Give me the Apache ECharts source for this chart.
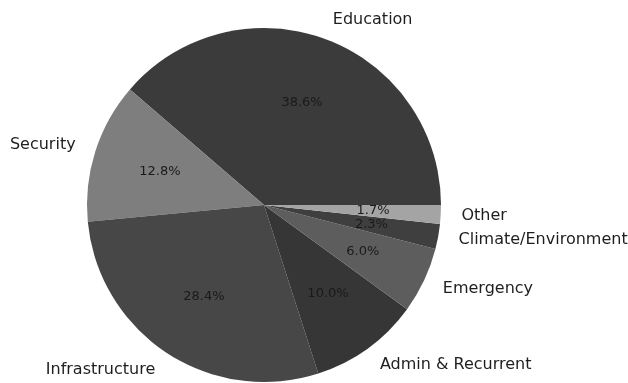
<!DOCTYPE html>
<html>
<head>
<meta charset="utf-8">
<script src="https://cdn.jsdelivr.net/npm/echarts@6/dist/echarts.min.js"></script>
<style>
  html, body { margin: 0; padding: 0; background: #ffffff; }
  #chart { width: 628px; height: 383px; }
</style>
</head>
<body>
<div id="chart"></div>
<script>
// Budget shares by sector (percent), drawn counter-clockwise from 3 o'clock
const categories = ['Education', 'Security', 'Infrastructure', 'Admin & Recurrent', 'Emergency', 'Climate/Environment', 'Other'];
const shares = [38.6, 12.8, 28.4, 10.0, 6.0, 2.3, 1.7];
const sliceColors = ['#3b3b3b', '#7e7e7e', '#474747', '#363636', '#5d5d5d', '#3f3f3f', '#a4a4a4'];

const CX = 264, CY = 205, R = 177;
const TEXT_FONT = 'DejaVu Sans';
const NAME_SIZE = 16;
const PCT_SIZE = 13;

// Measure label widths so category names can hang off the anchor point
const measureCtx = document.createElement('canvas').getContext('2d');
measureCtx.font = NAME_SIZE + 'px "' + TEXT_FONT + '"';

// Names on the right half start at the anchor; names on the left half end at it
let acc = 0;
const nameOffsets = shares.map((v, i) => {
  const mid = (acc + v / 2) / 100 * 2 * Math.PI;
  acc += v;
  const half = measureCtx.measureText(categories[i]).width / 2;
  return [Math.cos(mid) >= 0 ? half : -half, 0];
});

const chart = echarts.init(document.getElementById('chart'), null, { renderer: 'canvas' });

const baseSeries = {
  type: 'pie',
  center: [CX, CY],
  startAngle: 0,
  clockwise: false,
  avoidLabelOverlap: false,
  animation: false,
  labelLine: { show: false }
};

chart.setOption({
  backgroundColor: '#ffffff',
  series: [
    // Filled slices
    Object.assign({}, baseSeries, {
      radius: [0, R],
      label: { show: false },
      itemStyle: { borderWidth: 0 },
      data: categories.map((c, i) => ({ name: c, value: shares[i], itemStyle: { color: sliceColors[i] } }))
    }),
    // Percentage labels at 0.6 of the radius
    Object.assign({}, baseSeries, {
      radius: [0, R * 1.2],
      silent: true,
      itemStyle: { color: 'rgba(0,0,0,0)' },
      label: {
        show: true,
        position: 'inside',
        rotate: 0,
        color: '#1a1a1a',
        fontFamily: TEXT_FONT,
        fontSize: PCT_SIZE,
        formatter: p => p.value.toFixed(1) + '%'
      },
      data: categories.map((c, i) => ({ name: c, value: shares[i] }))
    }),
    // Category labels at 1.1 of the radius
    Object.assign({}, baseSeries, {
      radius: [0, R * 2.2],
      silent: true,
      itemStyle: { color: 'rgba(0,0,0,0)' },
      label: {
        show: true,
        position: 'inside',
        rotate: 0,
        color: '#1e1e1e',
        fontFamily: TEXT_FONT,
        fontSize: NAME_SIZE,
        formatter: p => p.name
      },
      data: categories.map((c, i) => ({ name: c, value: shares[i], label: { offset: nameOffsets[i] } }))
    })
  ]
});
</script>
</body>
</html>
